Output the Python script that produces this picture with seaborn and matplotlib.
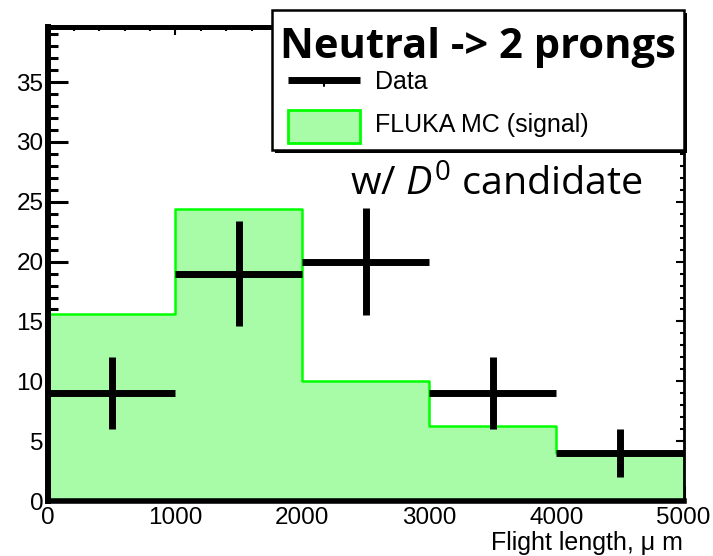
import numpy as np
import pandas as pd
import matplotlib
matplotlib.use("Agg")
import matplotlib.pyplot as plt
import seaborn as sns
from matplotlib.patches import Rectangle
from matplotlib.lines import Line2D
from matplotlib.ticker import MultipleLocator

# Histogram contents
bin_edges = [0, 1000, 2000, 3000, 4000, 5000]
data_counts = [9, 19, 20, 9, 4]
mc_signal = [15.6, 24.4, 10.0, 6.3, 4.0]
x_ticks = [0, 1000, 2000, 3000, 4000, 5000]
y_ticks = [0, 5, 10, 15, 20, 25, 30, 35]

W, H = 713, 556
FILL = "#a8fca8"
EDGE = "#00ff00"

sns.set_theme(style="white")
plt.rcParams["font.family"] = ["Liberation Sans", "DejaVu Sans"]
plt.rcParams["mathtext.fontset"] = "custom"
plt.rcParams["mathtext.rm"] = "Open Sans"
plt.rcParams["mathtext.it"] = "Open Sans:italic"

fig = plt.figure(figsize=(W / 100, H / 100), dpi=100)
fig.patch.set_facecolor("white")


def fx(px):
    return px / W


def fy(py):
    return 1 - py / H


ax = fig.add_axes([fx(48.3), fy(501), fx(683.5) - fx(48.3), fy(27) - fy(501)])

edges = np.array(bin_edges, dtype=float)
centers = (edges[:-1] + edges[1:]) / 2
df = pd.DataFrame({"flight": centers, "mc": mc_signal, "data": data_counts})

# MC signal as a filled step histogram
sns.histplot(data=df, x="flight", weights="mc", bins=bin_edges, element="step",
             fill=True, facecolor=FILL, edgecolor=EDGE, linewidth=1.8, alpha=1,
             ax=ax, zorder=1)

# Data points with Poisson errors and bin-width horizontal bars
ax.errorbar(df["flight"], df["data"], xerr=500, yerr=np.sqrt(df["data"]),
            fmt="none", ecolor="black", elinewidth=5, capsize=0, zorder=3)

ax.set_xlim(0, 5000)
ax.set_ylim(0, 39.6)
ax.set_xticks(x_ticks)
ax.set_yticks(y_ticks)
ax.xaxis.set_minor_locator(MultipleLocator(200))
ax.yaxis.set_minor_locator(MultipleLocator(1))
ax.set_xlabel("")
ax.set_ylabel("")

ax.tick_params(axis="x", which="major", direction="in", length=10.8, width=2.2,
               color="black", labelcolor="black", labelsize=17.5, pad=4,
               bottom=True, top=False)
ax.tick_params(axis="x", which="minor", direction="in", length=5.4, width=2.2,
               color="black", bottom=True, top=False)
ax.tick_params(axis="y", which="major", direction="in", length=14.4, width=2.2,
               color="black", labelcolor="black", labelsize=17.5, pad=3.5,
               left=True, right=False)
ax.tick_params(axis="y", which="minor", direction="in", length=7.2, width=2.2,
               color="black", left=True, right=False)

for side, lw in [("left", 4.3), ("bottom", 4.0), ("top", 3.6), ("right", 2.0)]:
    ax.spines[side].set_visible(True)
    ax.spines[side].set_color("black")
    ax.spines[side].set_linewidth(lw)
    ax.spines[side].set_zorder(5)

# Lighter ticks along the top and right frame
sx = ax.secondary_xaxis("top")
sx.set_xticks(x_ticks)
sx.set_xticklabels([])
sx.xaxis.set_minor_locator(MultipleLocator(200))
sx.tick_params(which="major", direction="in", length=6, width=1.5, color="black")
sx.tick_params(which="minor", direction="in", length=3, width=1.5, color="black")
sx.spines["top"].set_visible(False)

sy = ax.secondary_yaxis("right")
sy.set_yticks(y_ticks)
sy.set_yticklabels([])
sy.yaxis.set_minor_locator(MultipleLocator(1))
sy.tick_params(which="major", direction="in", length=6, width=1.5, color="black")
sy.tick_params(which="minor", direction="in", length=3, width=1.5, color="black")
sy.spines["right"].set_visible(False)

fig.text(fx(683), fy(550), "Flight length, \u03bc m", ha="right", va="baseline",
         fontsize=18, color="black")

# Legend box with shadow
fig.add_artist(Rectangle((fx(275), fy(153)), fx(684) - fx(272), fy(10) - fy(150),
                         transform=fig.transFigure, facecolor="black",
                         edgecolor="black", lw=0, zorder=10))
fig.add_artist(Rectangle((fx(272), fy(150)), fx(684) - fx(272), fy(10) - fy(150),
                         transform=fig.transFigure, facecolor="white",
                         edgecolor="black", lw=1.8, zorder=11))

renderer = fig.canvas.get_renderer()


def fit_text(x0, y_base, s, target_w, **kw):
    t = fig.text(fx(x0), fy(y_base), s, ha="left", va="baseline", zorder=12, **kw)
    size = t.get_fontsize()
    w = t.get_window_extent(renderer).width
    t.set_fontsize(size * target_w / w)
    return t


fit_text(280, 58, "Neutral -> 2 prongs", 395, fontsize=28, fontweight="bold",
         family=["Open Sans", "DejaVu Sans"], color="black")

fig.add_artist(Line2D([fx(288), fx(360)], [fy(80), fy(80)], transform=fig.transFigure,
                      color="black", lw=5, solid_capstyle="butt", zorder=12))
fig.add_artist(Line2D([fx(324), fx(324)], [fy(80), fy(86)], transform=fig.transFigure,
                      color="black", lw=1.5, zorder=12))
fig.add_artist(Rectangle((fx(288), fy(143)), fx(360) - fx(288), fy(110) - fy(143),
                         transform=fig.transFigure, facecolor=FILL,
                         edgecolor=EDGE, lw=2, zorder=12))
fig.text(fx(375), fy(89), "Data", ha="left", va="baseline", fontsize=18,
         color="black", zorder=12)
fig.text(fx(375), fy(132), "FLUKA MC (signal)", ha="left", va="baseline",
         fontsize=18, color="black", zorder=12)

fit_text(350, 196, "w/ $D^0$ candidate", 293, fontsize=22,
         family=["Open Sans", "DejaVu Sans"], color="black")

fig.savefig("out.png", dpi=100, facecolor="white")
